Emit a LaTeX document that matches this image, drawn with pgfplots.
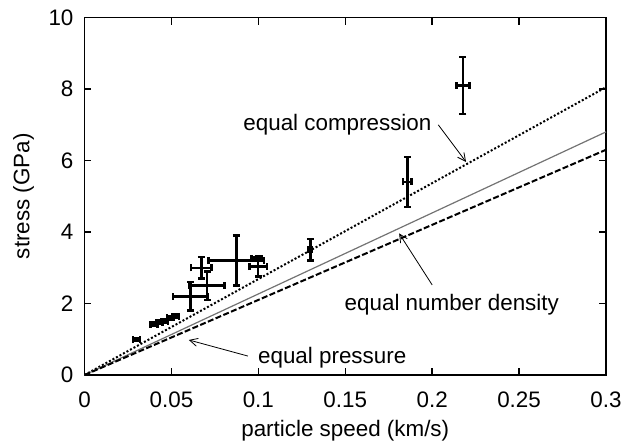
\documentclass[border=0pt]{standalone}
\usepackage{fontspec}
\setmainfont{Liberation Sans}
\usepackage{pgfplots}
\pgfplotsset{compat=1.18}
\usetikzlibrary{arrows.meta}
\pgfplotstableread{
x y ex ey
0.0300 0.99 0.0020 0.04
0.0400 1.42 0.0020 0.05
0.0430 1.47 0.0020 0.05
0.0460 1.51 0.0020 0.05
0.0495 1.60 0.0020 0.05
0.0525 1.64 0.0020 0.05
0.0610 2.20 0.0100 0.40
0.0705 2.50 0.0100 0.40
0.0672 3.00 0.0060 0.30
0.0874 3.20 0.0160 0.70
0.0999 3.03 0.0050 0.28
0.0990 3.25 0.0030 0.05
0.1300 3.50 0.0010 0.30
0.1857 5.40 0.0025 0.70
0.2177 8.10 0.0037 0.80
}\expdata
\begin{document}
\begin{tikzpicture}[font=\fontsize{11.2}{13}\selectfont]
\begin{axis}[
  name=ax,
  scale only axis,
  width=260.75pt, height=178.75pt,
  xmin=0, xmax=0.3, ymin=0, ymax=10,
  xtick={0,0.05,0.1,0.15,0.2,0.25,0.3},
  xticklabels={0,0.05,0.1,0.15,0.2,0.25,0.3},
  ytick={0,2,4,6,8,10},
  tick align=inside,
  major tick length=3.5pt,
  axis line style={line width=0.7pt},
  tick style={line width=0.7pt, black},
  every tick label/.append style={font=\fontsize{11.2}{13}\selectfont},
  label style={font=\fontsize{11.2}{13}\selectfont},
  /pgf/number format/assume math mode=true,
  xlabel={particle speed (km/s)},
  ylabel={stress (GPa)},
  xlabel style={at={(axis description cs:0.5,-0.157)}, anchor=center},
  ylabel style={at={(axis description cs:-0.117,0.5)}, anchor=center},
  xticklabel style={yshift=-5pt},
  yticklabel style={xshift=-2pt},
  clip=false,
]
\addplot[black, densely dotted, line width=1pt] coordinates {(0,0) (0.3,8.05)};
\addplot[black!55, line width=0.6pt] coordinates {(0,0) (0.3,6.8)};
\addplot[black, dash pattern=on 3pt off 1.2pt, line width=1pt] coordinates {(0,0) (0.3,6.3)};
\addplot[draw=none, mark=none,
  error bars/.cd, x dir=both, x explicit, y dir=both, y explicit,
  error bar style={draw=black, line width=1.25pt},
  error mark=-,
  error mark options={rotate=90, draw=black, line width=1.25pt, mark size=1.75pt}]
  table[x=x, y=y, x error=ex, y error=ey] {\expdata};
\node[anchor=center, font=\fontsize{11.2}{13}\selectfont] at (axis cs:0.1455,6.99) {equal compression};
\draw[-{Straight Barb[length=4pt,width=4pt]}, line width=0.4pt] (axis cs:0.2035,7.0) -- (axis cs:0.2195,5.96);
\node[anchor=center, font=\fontsize{11.2}{13}\selectfont] at (axis cs:0.2113,1.96) {equal number density};
\draw[-{Straight Barb[length=4pt,width=4pt]}, line width=0.4pt] (axis cs:0.200,2.52) -- (axis cs:0.181,3.96);
\node[anchor=center, font=\fontsize{11.2}{13}\selectfont] at (axis cs:0.1425,0.48) {equal pressure};
\draw[-{Straight Barb[length=4pt,width=4pt]}, line width=0.4pt] (axis cs:0.094,0.53) -- (axis cs:0.060,0.98);
\end{axis}
\pgfresetboundingbox
\path[use as bounding box] ([shift={(-42.25pt,-35pt)}]ax.south west) rectangle ([shift={(268.25pt,187.5pt)}]ax.south west);
\end{tikzpicture}
\end{document}
